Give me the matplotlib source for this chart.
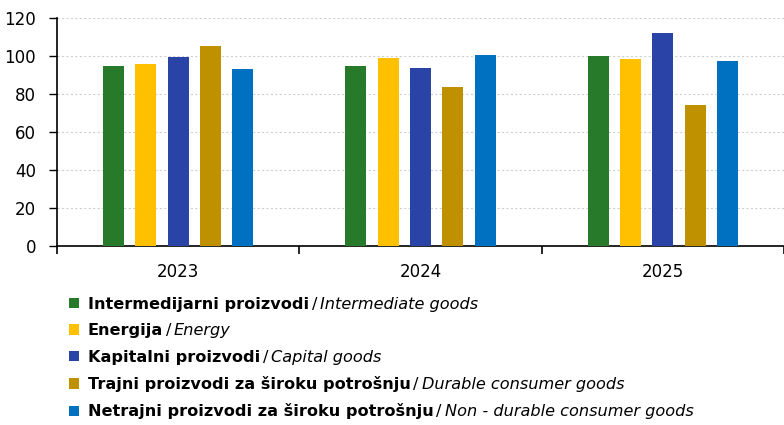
import matplotlib
matplotlib.use("Agg")
import matplotlib.pyplot as plt
import numpy as np

plt.rcParams["font.family"] = ["DejaVu Sans"]

years = ["2023", "2024", "2025"]
names_bold = [
    "Intermedijarni proizvodi",
    "Energija",
    "Kapitalni proizvodi",
    "Trajni proizvodi za široku potrošnju",
    "Netrajni proizvodi za široku potrošnju",
]
names_italic = [
    "Intermediate goods",
    "Energy",
    "Capital goods",
    "Durable consumer goods",
    "Non - durable consumer goods",
]
intermediate = [94.7, 94.8, 100.0]
energy = [95.9, 99.0, 98.2]
capital = [99.5, 93.6, 111.8]
durable = [105.3, 83.5, 74.0]
non_durable = [93.0, 100.4, 97.1]
colors = ["#277A29", "#FFC000", "#2944A6", "#BF9000", "#0070C0"]

series = [intermediate, energy, capital, durable, non_durable]

fig = plt.figure(figsize=(7.84, 4.25), dpi=100)
ax = fig.add_axes([0.0727, 0.4205, 0.9273, 0.5379])

x = np.arange(len(years))
pitch = 0.1335
width = 0.087
handles = []
for i, (vals, c) in enumerate(zip(series, colors)):
    b = ax.bar(x + (i - 2) * pitch, vals, width=width, color=c, zorder=3)
    handles.append(b)

ax.set_xlim(-0.5, len(years) - 0.5)
ax.set_ylim(0, 120)
ax.set_yticks(range(0, 121, 20))
ax.tick_params(axis="y", labelsize=12, length=6, width=1, direction="out", pad=9)

# category boundaries as major ticks, year labels on minor ticks
ax.set_xticks(np.arange(-0.5, len(years), 1.0))
ax.set_xticklabels([])
ax.set_xticks(x, minor=True)
ax.set_xticklabels(years, minor=True)
ax.tick_params(axis="x", which="major", length=6, width=1.2, direction="out")
ax.tick_params(axis="x", which="minor", length=0, labelsize=12, pad=12)

ax.grid(axis="y", color="#d0d0d0", linestyle=(0, (2, 2)), linewidth=0.8, zorder=0)
for s in ["top", "right"]:
    ax.spines[s].set_visible(False)
ax.spines["left"].set_linewidth(1.2)
ax.spines["bottom"].set_linewidth(1.2)

fsize = 11.6
leg = fig.legend(handles, names_bold, loc="upper left",
                 bbox_to_anchor=(0.088, 0.302), frameon=False,
                 handlelength=0.62, handleheight=0.62, handletextpad=0.55,
                 labelspacing=0.71, borderaxespad=0, borderpad=0,
                 prop={"weight": "bold", "size": fsize})
# slash plus English name in italics, chained after each bold label
for t, it in zip(leg.get_texts(), names_italic):
    slash = plt.Annotation("/", xy=(1, 0), xycoords=t, xytext=(2, 0),
                           textcoords="offset points", va="bottom", ha="left",
                           fontsize=fsize, zorder=10)
    fig.add_artist(slash)
    fig.add_artist(plt.Annotation(it, xy=(1, 0), xycoords=slash, xytext=(2, 0),
                                  textcoords="offset points", va="bottom",
                                  ha="left", fontsize=fsize, style="italic",
                                  zorder=11))

fig.savefig("out.png", dpi=100)
